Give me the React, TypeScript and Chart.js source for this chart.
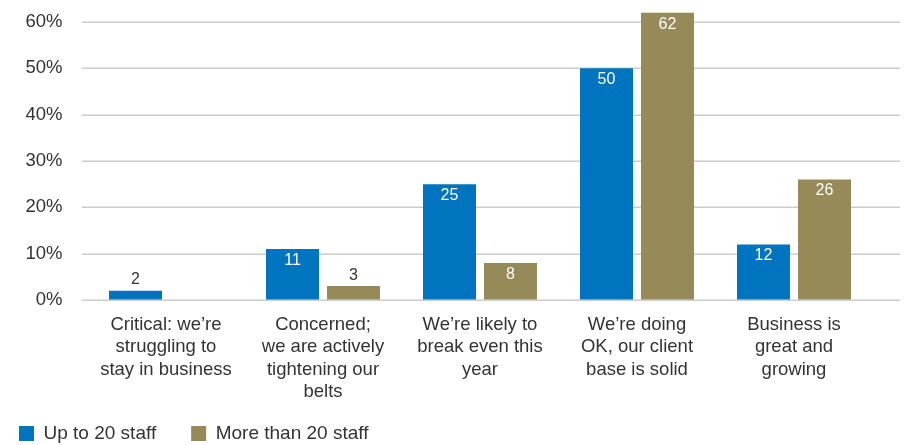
import React, { useEffect, useRef } from "react";
import { Chart, registerables } from "chart.js";

Chart.register(...registerables);

const categories: string[][] = [
  ["Critical: we’re", "struggling to", "stay in business"],
  ["Concerned;", "we are actively", "tightening our", "belts"],
  ["We’re likely to", "break even this", "year"],
  ["We’re doing", "OK, our client", "base is solid"],
  ["Business is", "great and", "growing"],
];
const upTo20: (number | null)[] = [2, 11, 25, 50, 12];
const moreThan20: (number | null)[] = [null, 3, 8, 62, 26];
const seriesNames = ["Up to 20 staff", "More than 20 staff"];
const yTicks = { min: 0, max: 60, step: 10 };

const FONT = "'Liberation Sans', Arial, Helvetica, sans-serif";
const BLUE = "#0074BE";
const OLIVE = "#968A58";
const TEXT = "#333333";

const gridPlugin = {
  id: "customGrid",
  afterLayout(chart: any) {
    // let the multi-line category labels extend below the axis box
    chart.scales.x.bottom += 30;
  },
  beforeDatasetsDraw(chart: any) {
    const { ctx, chartArea, scales } = chart;
    const y = scales.y;
    ctx.save();
    ctx.strokeStyle = "#cccccc";
    ctx.lineWidth = 1.5;
    y.ticks.forEach((t: any) => {
      const py = Math.round(y.getPixelForValue(t.value)) + 0.25;
      ctx.beginPath();
      ctx.moveTo(chartArea.left - 5.5, py);
      ctx.lineTo(chartArea.right + 27.5, py);
      ctx.stroke();
    });
    ctx.restore();
  },
};

const labelPlugin = {
  id: "valueLabels",
  afterDatasetsDraw(chart: any) {
    const { ctx } = chart;
    ctx.save();
    ctx.font = `16px ${FONT}`;
    ctx.textAlign = "center";
    ctx.textBaseline = "middle";
    chart.data.datasets.forEach((ds: any, i: number) => {
      const meta = chart.getDatasetMeta(i);
      meta.data.forEach((el: any, j: number) => {
        const v = ds.data[j];
        if (v === null || v === undefined || v === 0) return;
        if (v < 5) {
          ctx.fillStyle = TEXT;
          ctx.fillText(String(v), el.x, el.y - 11);
        } else {
          ctx.fillStyle = "#ffffff";
          ctx.fillText(String(v), el.x, el.y + 11.5);
        }
      });
    });
    ctx.restore();
  },
};

export default function App() {
  const ref = useRef<HTMLCanvasElement>(null);
  useEffect(() => {
    if (!ref.current) return;
    const chart = new Chart(ref.current, {
      type: "bar",
      data: {
        labels: categories,
        datasets: [
          {
            label: seriesNames[0],
            data: upTo20,
            backgroundColor: BLUE,
            categoryPercentage: 0.777,
            barPercentage: 0.869,
            clip: false,
          } as any,
          {
            label: seriesNames[1],
            data: moreThan20,
            backgroundColor: OLIVE,
            categoryPercentage: 0.777,
            barPercentage: 0.869,
            clip: false,
          } as any,
        ],
      },
      options: {
        animation: false,
        responsive: true,
        maintainAspectRatio: false,
        layout: { padding: { top: 22, left: -16, right: 35.5, bottom: -8 } },
        plugins: {
          tooltip: { enabled: false },
          legend: {
            position: "bottom",
            align: "start",
            labels: {
              boxWidth: 15,
              boxHeight: 15,
              padding: 35,
              color: TEXT,
              font: { family: FONT, size: 19 },
            },
          },
        },
        scales: {
          x: {
            grid: { display: false, drawTicks: false },
            border: { display: false },
            ticks: {
              color: TEXT,
              font: { family: FONT, size: 18.5, lineHeight: 1.216 },
              padding: 13.5,
              maxRotation: 0,
              autoSkip: false,
            },
            afterFit: (s: any) => {
              s.height = 89;
            },
          },
          y: {
            min: yTicks.min,
            max: yTicks.max,
            grid: {
              display: true,
              drawOnChartArea: false,
              drawTicks: true,
              tickLength: 25,
              tickColor: "rgba(0,0,0,0)",
              color: "rgba(0,0,0,0)",
            },
            border: { display: false },
            ticks: {
              stepSize: yTicks.step,
              color: TEXT,
              padding: 0,
              font: { family: FONT, size: 18.5 },
              callback: (v: any) => `${v}%`,
            },
            afterFit: (s: any) => {
              s.width = 103.5;
            },
          },
        },
      },
      plugins: [gridPlugin, labelPlugin],
    });
    return () => chart.destroy();
  }, []);
  return (
    <div style={{ position: "fixed", left: 0, top: 0, width: 908, height: 445, background: "#fff" }}>
      <canvas ref={ref} />
    </div>
  );
}
